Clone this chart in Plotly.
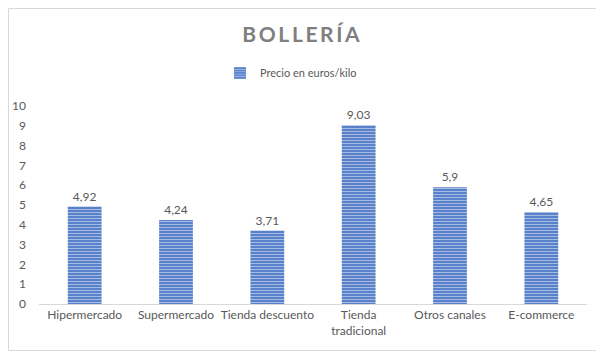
import plotly.graph_objects as go

categories = ["Hipermercado", "Supermercado", "Tienda descuento", "Tienda<br>tradicional", "Otros canales", "E-commerce"]
values = [4.92, 4.24, 3.71, 9.03, 5.9, 4.65]
series_name = "Precio en euros/kilo"
y_ticks = list(range(0, 11))

OFF = 8  # page body margin offset
W, H = 604 - OFF, 355 - OFF
# plot area in reference pixel coordinates
PL, PR, PT, PB = 39, 587, 106, 304
L, R, T, B = PL - OFF, W - (PR - OFF), PT - OFF, H - (PB - OFF)
pw, ph = W - L - R, H - T - B

def px_x(x):
    return (x - OFF - L) / pw

def px_y(y):
    return (H - B - (y - OFF)) / ph

FONT = "Lato, Carlito, 'Open Sans', sans-serif"
GRAY = "#595959"

fig = go.Figure()
fig.add_trace(go.Bar(
    x=categories, y=values, name=series_name,
    marker=dict(color="#4472C4",
                pattern=dict(shape="-", fgcolor="#ffffff", bgcolor="#4a76c6", size=3, solidity=0.45),
                line=dict(width=0)),
    text=[f"{v:g}".replace(".", ",") for v in values],
    textposition="outside", cliponaxis=False,
    textfont=dict(size=12, color=GRAY, family=FONT),
    showlegend=True,
))

fig.update_layout(
    width=W, height=H,
    margin=dict(l=L, r=R, t=T, b=B, autoexpand=False),
    paper_bgcolor="white", plot_bgcolor="white",
    separators=",.",
    bargap=0.63,
    title=dict(text="<b>B\u2009O\u2009L\u2009L\u2009E\u2009R\u2009Í\u2009A</b>", x=(301 - OFF) / W, xanchor="center",
               y=1 - (35 - OFF) / H, yanchor="middle", yref="container", xref="container",
               font=dict(size=21, color="#7f7f7f", family=FONT)),
    legend=dict(orientation="h", xref="container", yref="container",
                x=(220 - OFF) / W, xanchor="left", y=1 - (73 - OFF) / H, yanchor="middle",
                font=dict(size=11, color=GRAY, family=FONT), itemwidth=30),
    xaxis=dict(showline=True, linecolor="#d9d9d9", linewidth=1, ticks="", automargin=False,
               tickfont=dict(size=12, color=GRAY, family=FONT), showgrid=False),
    yaxis=dict(range=[0, 10], tickvals=y_ticks, showgrid=False, zeroline=False, showline=False,
               automargin=False,
               ticks="", tickfont=dict(size=12, color=GRAY, family=FONT), ticklabelstandoff=12),
    shapes=[dict(type="rect", xref="paper", yref="paper",
                 x0=px_x(OFF + 0.5), x1=px_x(600.5), y0=px_y(350.5), y1=px_y(OFF + 0.5),
                 line=dict(color="#d9d9d9", width=1), fillcolor="rgba(0,0,0,0)", layer="below")],
)

fig.write_html("out.html")
